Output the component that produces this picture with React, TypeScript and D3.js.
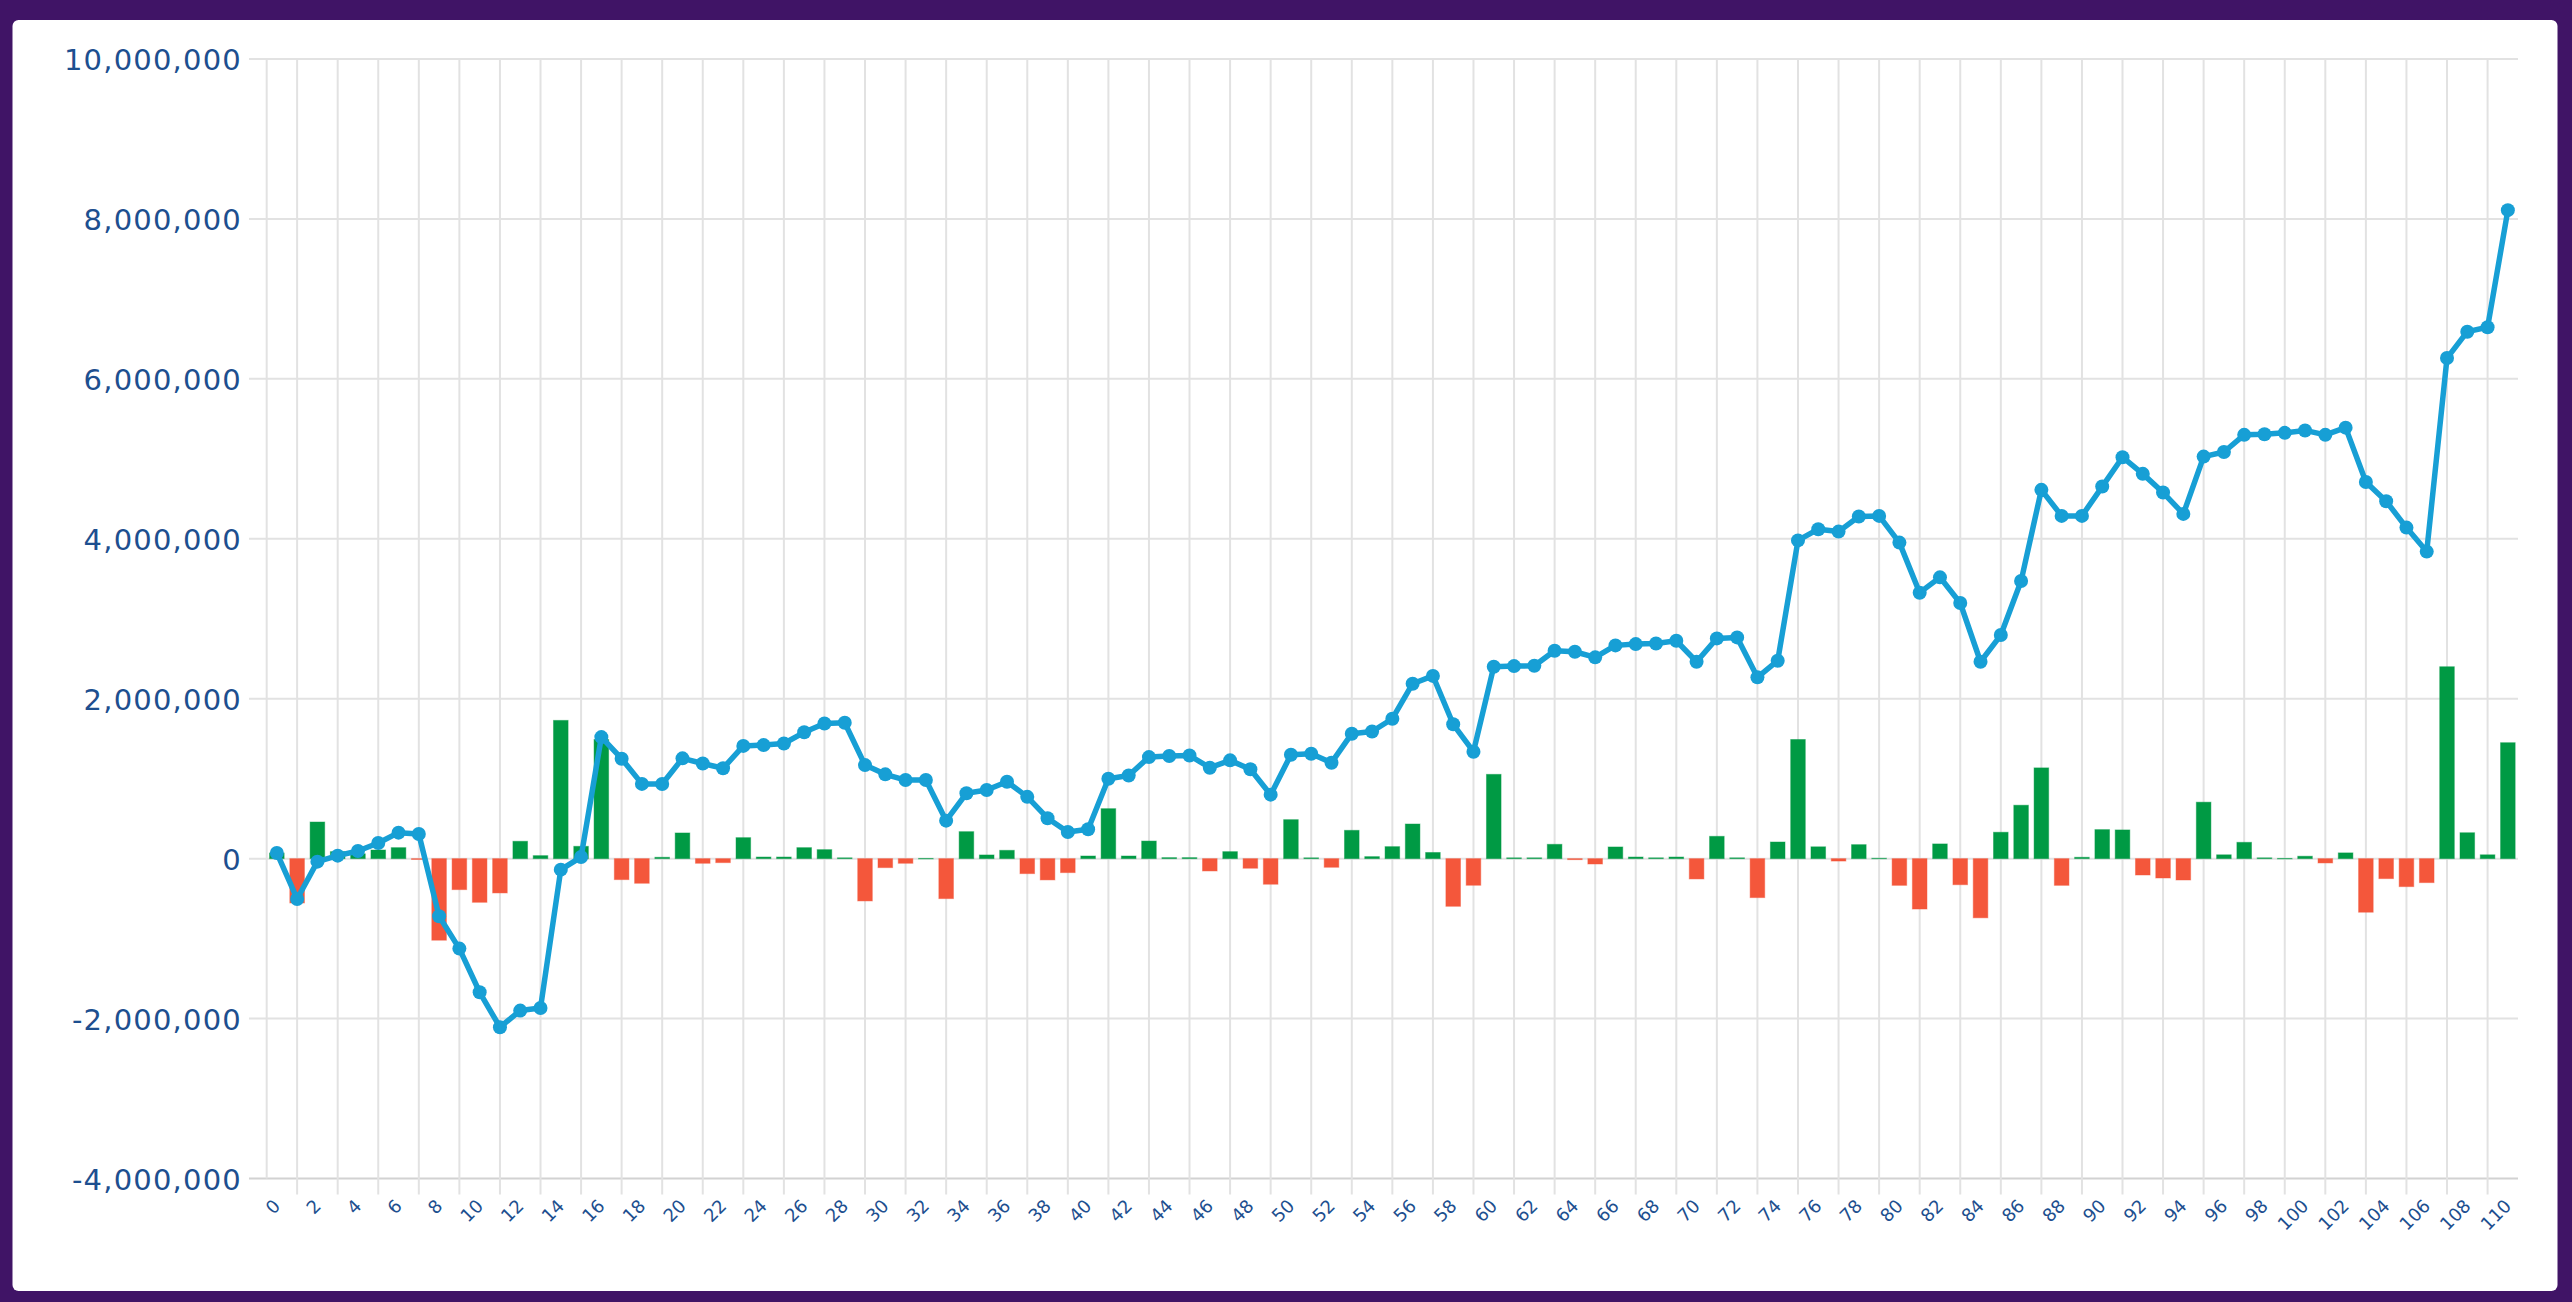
import React from "react";
import * as d3 from "d3";

// ---- data (values in units) ----
const categories: number[] = Array.from({ length: 111 }, (_, i) => i);

const changeValues: number[] = [
  0.07, -0.554, 0.458, 0.0875, 0.06, 0.108, 0.1375, -0.01, -1.02, -0.3875,
  -0.546, -0.429, 0.217, 0.0375, 1.729, 0.154, 1.49, -0.2625, -0.308, 0.017,
  0.321, -0.058, -0.05, 0.2625, 0.02, 0.02, 0.1375, 0.1125, 0.01, -0.529,
  -0.1125, -0.058, 0.003, -0.5, 0.3375, 0.046, 0.104, -0.1875, -0.266, -0.175,
  0.033, 0.625, 0.033, 0.22, 0.0125, 0.0125, -0.154, 0.0875, -0.12, -0.32,
  0.4875, 0.01, -0.108, 0.354, 0.025, 0.15, 0.433, 0.077, -0.596, -0.333,
  1.054, 0.01, 0.01, 0.179, -0.0125, -0.067, 0.146, 0.02, 0.01, 0.02,
  -0.254, 0.279, 0.01, -0.4875, 0.208, 1.49, 0.148, -0.03, 0.175, 0.005,
  -0.334, -0.63, 0.184, -0.326, -0.74, 0.33, 0.668, 1.135, -0.334, 0.017,
  0.363, 0.359, -0.2045, -0.242, -0.267, 0.706, 0.048, 0.204, 0.01, 0.003,
  0.03, -0.054, 0.072, -0.67, -0.25, -0.35, -0.3, 2.4, 0.324, 0.048,
  1.45,
].map((v) => v * 1e6);

const totalValues: number[] = [
  0.071, -0.504, -0.0375, 0.0375, 0.096, 0.196, 0.325, 0.308, -0.721, -1.125,
  -1.671, -2.108, -1.9, -1.867, -0.1375, 0.02, 1.52, 1.25, 0.935, 0.933,
  1.254, 1.19, 1.13, 1.41, 1.42, 1.44, 1.58, 1.69, 1.7, 1.17,
  1.054, 0.983, 0.983, 0.475, 0.817, 0.858, 0.9625, 0.773, 0.506, 0.333,
  0.367, 1.0, 1.04, 1.27, 1.283, 1.29, 1.1375, 1.229, 1.117, 0.8,
  1.3, 1.3125, 1.2, 1.5625, 1.59, 1.75, 2.1875, 2.285, 1.68, 1.3375,
  2.4, 2.408, 2.4125, 2.6, 2.5875, 2.517, 2.667, 2.683, 2.69, 2.725,
  2.4625, 2.754, 2.767, 2.267, 2.475, 3.98, 4.12, 4.09, 4.278, 4.286,
  3.952, 3.326, 3.518, 3.197, 2.462, 2.796, 3.472, 4.612, 4.286, 4.286,
  4.653, 5.02, 4.812, 4.578, 4.311, 5.028, 5.085, 5.3, 5.307, 5.325,
  5.355, 5.3, 5.39, 4.71, 4.47, 4.14, 3.84, 6.26, 6.59, 6.645,
  8.11,
].map((v) => v * 1e6);

const yTickValues: number[] = [-4e6, -2e6, 0, 2e6, 4e6, 6e6, 8e6, 10e6];
const xTickLabels: number[] = categories.filter((c) => c % 2 === 0);

// ---- style ----
const W = 2572;
const H = 1302;
const PURPLE = "#401466";
const LABEL = "#1d4f8f";
const GRID = "#e2e2e2";
const AXIS = "#d2d2d2";
const GREEN = "#009a44";
const RED = "#f4573b";
const BLUE = "#179fd5";

export default function App() {
  const left = 266.7;
  const right = 2518;
  const top = 59;
  const bottom = 1178.5;

  const x = d3
    .scaleBand<number>()
    .domain(categories)
    .range([left, right])
    .paddingInner(0)
    .paddingOuter(0);
  const bw = x.bandwidth();
  const cx = (c: number) => (x(c) as number) + bw / 2;

  const y = d3.scaleLinear().domain([-4e6, 10e6]).range([bottom, top]);
  const fmtBase = d3.format(",");
  const fmt = (v: number) => fmtBase(v).replace("\u2212", "-");

  const barW = bw * 0.72;

  const line = d3
    .line<number>()
    .x((_, i) => cx(categories[i]))
    .y((d) => y(d));

  // vertical grid lines: offset grid between skipped ticks
  const vGrid: number[] = [];
  for (let k = 1; k < xTickLabels.length; k++) {
    vGrid.push((cx(xTickLabels[k]) + cx(xTickLabels[k - 1])) / 2);
  }

  const fontFamily = "'DejaVu Sans', sans-serif";

  return (
    <div style={{ position: "absolute", left: 0, top: 0, width: W, height: H }}>
      <svg width={W} height={H} viewBox={`0 0 ${W} ${H}`} style={{ display: "block" }}>
        <rect x={0} y={0} width={W} height={H} fill={PURPLE} />
        <rect x={12.5} y={20} width={2545} height={1271} rx={6} fill="#ffffff" />

        {/* horizontal grid */}
        {yTickValues.map((t) => (
          <line
            key={"h" + t}
            x1={249}
            x2={right}
            y1={y(t)}
            y2={y(t)}
            stroke={t === -4e6 ? AXIS : GRID}
            strokeWidth={2}
          />
        ))}
        {/* vertical grid */}
        <line x1={left} x2={left} y1={top} y2={bottom} stroke={GRID} strokeWidth={2} />
        {vGrid.map((gx, i) => (
          <line key={"v" + i} x1={gx} x2={gx} y1={top} y2={bottom + 16} stroke={GRID} strokeWidth={2} />
        ))}

        {/* y labels */}
        {yTickValues.map((t) => (
          <text
            key={"yl" + t}
            x={242}
            y={y(t) + 1}
            textAnchor="end"
            dominantBaseline="central"
            fill={LABEL}
            fontFamily={fontFamily}
            fontSize={29}
            letterSpacing={1.2}
          >
            {fmt(t)}
          </text>
        ))}

        {/* x labels */}
        {xTickLabels.map((c) => (
          <text
            key={"xl" + c}
            transform={`translate(${cx(c)},${bottom + 24}) rotate(-45)`}
            textAnchor="end"
            dominantBaseline="central"
            fill={LABEL}
            fontFamily={fontFamily}
            fontSize={18}
          >
            {c}
          </text>
        ))}

        {/* bars */}
        {changeValues.map((v, i) => {
          const y0 = y(0);
          const y1 = y(v);
          const col = v >= 0 ? GREEN : RED;
          return (
            <rect
              key={"b" + i}
              x={cx(categories[i]) - barW / 2}
              y={Math.min(y0, y1)}
              width={barW}
              height={Math.max(Math.abs(y1 - y0), 0.5)}
              fill={col}
              stroke={col}
              strokeOpacity={0.45}
              strokeWidth={1}
            />
          );
        })}

        {/* cumulative line */}
        <path d={line(totalValues) || ""} fill="none" stroke={BLUE} strokeWidth={5.5} strokeLinejoin="round" />
        {totalValues.map((v, i) => (
          <circle key={"p" + i} cx={cx(categories[i])} cy={y(v)} r={7} fill={BLUE} />
        ))}
      </svg>
    </div>
  );
}
